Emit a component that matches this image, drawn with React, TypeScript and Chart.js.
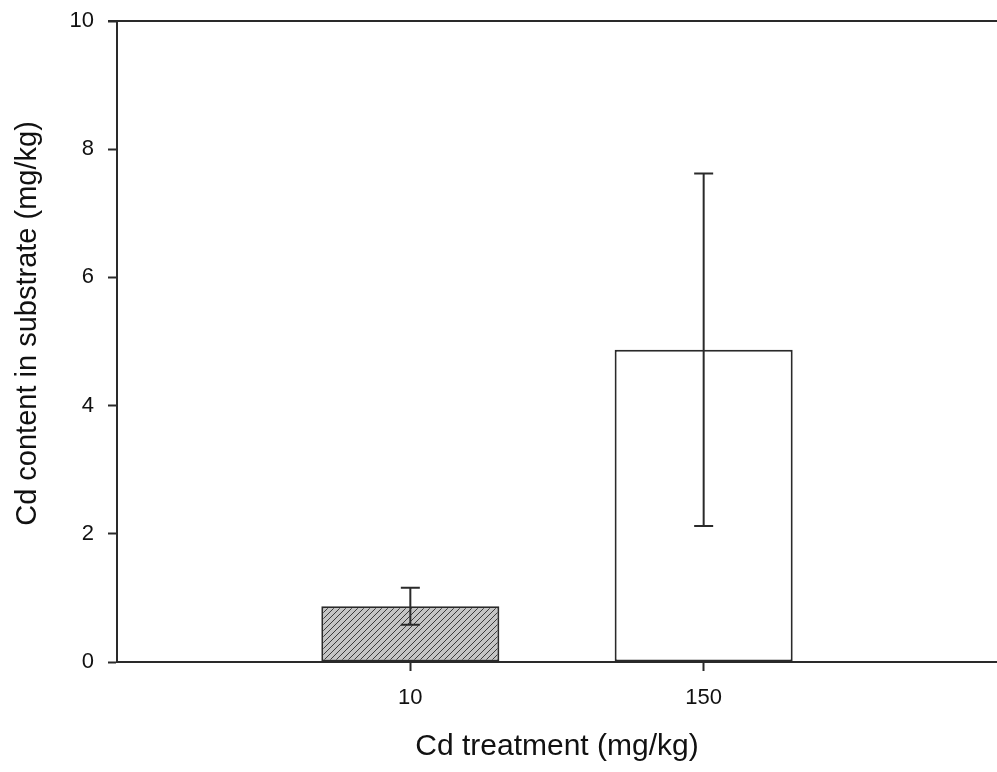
import React, { useEffect, useRef } from "react";
import { Chart, registerables } from "chart.js";

Chart.register(...registerables);

const categories = ["", "10", "150", ""];
const means = [null, 0.87, 4.87, null];
const errLow = [null, 0.58, 2.12, null];
const errHigh = [null, 1.16, 7.62, null];
const yTicks = [0, 2, 4, 6, 8, 10];
const xTitle = "Cd treatment (mg/kg)";
const yTitle = "Cd content in substrate (mg/kg)";

const AXIS_COLOR = "#2a2a2a";
const TEXT_COLOR = "#111111";
const FONT = "'Liberation Sans', Arial, sans-serif";

function makeHatch(): CanvasPattern | string {
  const c = document.createElement("canvas");
  c.width = 6;
  c.height = 6;
  const g = c.getContext("2d");
  if (!g) return "#b0b0b0";
  g.fillStyle = "#c4c4c4";
  g.fillRect(0, 0, 6, 6);
  g.strokeStyle = "#3a3a3a";
  g.lineWidth = 1;
  g.beginPath();
  g.moveTo(0, 6);
  g.lineTo(6, 0);
  g.moveTo(-3, 3);
  g.lineTo(3, -3);
  g.moveTo(3, 9);
  g.lineTo(9, 3);
  g.stroke();
  const p = g.createPattern(c, "repeat");
  return p || "#b0b0b0";
}

const errorBarPlugin = {
  id: "errorBars",
  afterDatasetsDraw(chart: any) {
    const ctx = chart.ctx;
    const meta = chart.getDatasetMeta(0);
    const yScale = chart.scales.y;
    ctx.save();
    ctx.strokeStyle = AXIS_COLOR;
    ctx.lineWidth = 2;
    meta.data.forEach((el: any, i: number) => {
      const lo = errLow[i];
      const hi = errHigh[i];
      if (lo == null || hi == null) return;
      const x = el.x;
      const yLo = yScale.getPixelForValue(lo);
      const yHi = yScale.getPixelForValue(hi);
      const cap = 9.5;
      ctx.beginPath();
      ctx.moveTo(x, yLo);
      ctx.lineTo(x, yHi);
      ctx.moveTo(x - cap, yHi);
      ctx.lineTo(x + cap, yHi);
      ctx.moveTo(x - cap, yLo);
      ctx.lineTo(x + cap, yLo);
      ctx.stroke();
    });
    ctx.restore();
  },
};

const framePlugin = {
  id: "frame",
  afterDraw(chart: any) {
    const { ctx, chartArea } = chart;
    ctx.save();
    ctx.strokeStyle = AXIS_COLOR;
    ctx.lineWidth = 2;
    ctx.beginPath();
    ctx.moveTo(chartArea.left - 9, chartArea.top);
    ctx.lineTo(chartArea.right, chartArea.top);
    ctx.stroke();
    // y axis title
    ctx.fillStyle = TEXT_COLOR;
    ctx.font = `29px ${FONT}`;
    ctx.textAlign = "center";
    ctx.textBaseline = "middle";
    ctx.translate(28, (chartArea.top + chartArea.bottom) / 2 - 18);
    ctx.rotate(-Math.PI / 2);
    ctx.fillText(yTitle, 0, 0);
    ctx.restore();
  },
};

export default function App() {
  const ref = useRef<HTMLCanvasElement | null>(null);

  useEffect(() => {
    if (!ref.current) return;
    const hatch = makeHatch();
    const chart = new Chart(ref.current, {
      type: "bar",
      data: {
        labels: categories,
        datasets: [
          {
            data: means as any,
            backgroundColor: [null, hatch, "#ffffff", null] as any,
            borderColor: AXIS_COLOR,
            borderWidth: 2,
            borderSkipped: false,
            barPercentage: 0.607,
            categoryPercentage: 1,
          },
        ],
      },
      options: {
        animation: false,
        responsive: false,
        maintainAspectRatio: false,
        layout: { padding: 0 },
        plugins: {
          legend: { display: false },
          tooltip: { enabled: false },
        },
        scales: {
          x: {
            type: "category",
            offset: false,
            afterFit: (s: any) => {
              s.height = 110;
              s.paddingLeft = 0;
              s.paddingRight = 0;
            },
            grid: {
              display: true,
              drawOnChartArea: false,
              drawTicks: true,
              tickLength: 9,
              tickWidth: 2,
              offset: false,
              tickColor: (c: any) =>
                c.tick && c.tick.label ? AXIS_COLOR : "rgba(0,0,0,0)",
            },
            border: { display: true, color: AXIS_COLOR, width: 2 },
            ticks: {
              color: TEXT_COLOR,
              padding: 14,
              maxRotation: 0,
              autoSkip: false,
              font: { family: FONT, size: 22 },
            },
            title: {
              display: true,
              text: xTitle,
              color: TEXT_COLOR,
              font: { family: FONT, size: 30 },
              padding: { top: 0, bottom: 7 },
            },
          },
          y: {
            min: 0,
            max: 10,
            afterFit: (s: any) => {
              s.width = 117;
              s.paddingTop = 21;
              s.paddingBottom = 0;
            },
            afterBuildTicks: (s: any) => {
              s.ticks = yTicks.map((v) => ({ value: v }));
            },
            grid: {
              display: true,
              drawOnChartArea: false,
              drawTicks: true,
              tickLength: 9,
              tickWidth: 2,
              tickColor: AXIS_COLOR,
            },
            border: { display: true, color: AXIS_COLOR, width: 2 },
            ticks: {
              color: TEXT_COLOR,
              padding: 14,
              font: { family: FONT, size: 22 },
            },
            title: { display: false },
          },
        },
      },
      plugins: [errorBarPlugin, framePlugin],
    });
    return () => chart.destroy();
  }, []);

  return (
    <div
      style={{
        position: "fixed",
        left: 0,
        top: 0,
        width: 997,
        height: 772,
        background: "#ffffff",
      }}
    >
      <canvas ref={ref} width={997} height={772} />
    </div>
  );
}
